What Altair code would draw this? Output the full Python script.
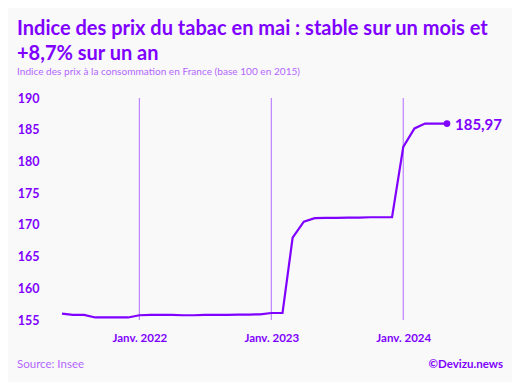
import altair as alt
import pandas as pd

months = [
    "2021-06", "2021-07", "2021-08", "2021-09", "2021-10", "2021-11", "2021-12",
    "2022-01", "2022-02", "2022-03", "2022-04", "2022-05", "2022-06", "2022-07",
    "2022-08", "2022-09", "2022-10", "2022-11", "2022-12",
    "2023-01", "2023-02", "2023-03", "2023-04", "2023-05", "2023-06", "2023-07",
    "2023-08", "2023-09", "2023-10", "2023-11", "2023-12",
    "2024-01", "2024-02", "2024-03", "2024-04", "2024-05",
]
values = [
    156.0, 155.8, 155.8, 155.4, 155.4, 155.4, 155.4,
    155.75, 155.8, 155.8, 155.8, 155.75, 155.75, 155.8,
    155.8, 155.8, 155.85, 155.85, 155.9,
    156.1, 156.1, 168.0, 170.5, 171.05, 171.1, 171.1,
    171.15, 171.15, 171.2, 171.2, 171.2,
    182.3, 185.2, 185.97, 185.97, 185.97,
]
y_ticks = [155, 160, 165, 170, 175, 180, 185, 190]
x_tick_years = [2022, 2023, 2024]

title_lines = ["Indice des prix du tabac en mai : stable sur un mois et", "+8,7% sur un an"]
subtitle = "Indice des prix à la consommation en France (base 100 en 2015)"
source = "Source: Insee"
credit = "©Devizu.news"

PURPLE = "#7f00ff"
LIGHT = "#b366ff"
RULE = "#b978ff"
BG = "#f9f9f9"
FONT = "Lato"

df = pd.DataFrame({"date": [m + "-01" for m in months], "value": values})
last = df.tail(1).copy()
last["label"] = "185,97"
rules_df = pd.DataFrame({"date": [f"{y}-01-01" for y in x_tick_years]})

W, H = 385, 222

x = alt.X(
    "date:T",
    scale=alt.Scale(type="utc", nice=False),
    axis=alt.Axis(
        values=[alt.DateTime(year=y, month=1, date=1, utc=True) for y in x_tick_years],
        labelExpr="'Janv. ' + utcFormat(datum.value, '%Y')",
        grid=False, ticks=False, domain=False,
        labelFont=FONT, labelFontWeight="bold", labelFontSize=11.5,
        labelColor=PURPLE, labelPadding=12, title=None,
    ),
)
y = alt.Y(
    "value:Q",
    scale=alt.Scale(domain=[155, 190], nice=False, zero=False),
    axis=alt.Axis(
        values=y_ticks, grid=False, ticks=False, domain=False, labelOverlap=False,
        labelFont=FONT, labelFontWeight="bold", labelFontSize=12.5,
        labelColor=PURPLE, labelPadding=23, title=None,
    ),
)

rules = alt.Chart(rules_df).mark_rule(color=RULE, strokeWidth=1.1).encode(x=x)
line = alt.Chart(df).mark_line(color=PURPLE, strokeWidth=2.2, clip=False).encode(x=x, y=y)
dot = alt.Chart(last).mark_point(filled=True, color=PURPLE, size=45, opacity=1).encode(x=x, y=y)
lbl = alt.Chart(last).mark_text(
    align="left", baseline="middle", dx=8, dy=1, font=FONT, fontWeight="bold",
    fontSize=15, color=PURPLE
).encode(x=x, y=y, text="label:N")

def txt(s, xv, yv, size, color, weight="normal", align="left"):
    return alt.Chart(pd.DataFrame({"t": [s]})).mark_text(
        align=align, baseline="alphabetic", font=FONT, fontSize=size,
        fontWeight=weight, color=color
    ).encode(text="t:N", x=alt.value(xv), y=alt.value(yv))

texts = [
    txt(title_lines[0], -45, -63, 20, PURPLE, "bold"),
    txt(title_lines[1], -45, -38, 20, PURPLE, "bold"),
    txt(subtitle, -45, -23, 10.1, LIGHT),
    txt(source, -45, 270, 11.5, LIGHT),
    txt(credit, 441, 270, 11.5, PURPLE, "bold", align="right"),
]

chart = alt.layer(rules, line, dot, lbl, *texts).properties(
    width=W, height=H,
    autosize=alt.AutoSizeParams(type="none"),
    padding={"left": 54, "top": 90, "right": 65, "bottom": 62},
    background=BG,
).configure_view(stroke=None)

chart.save("out.html", embed_options={"renderer": "svg", "actions": False})
